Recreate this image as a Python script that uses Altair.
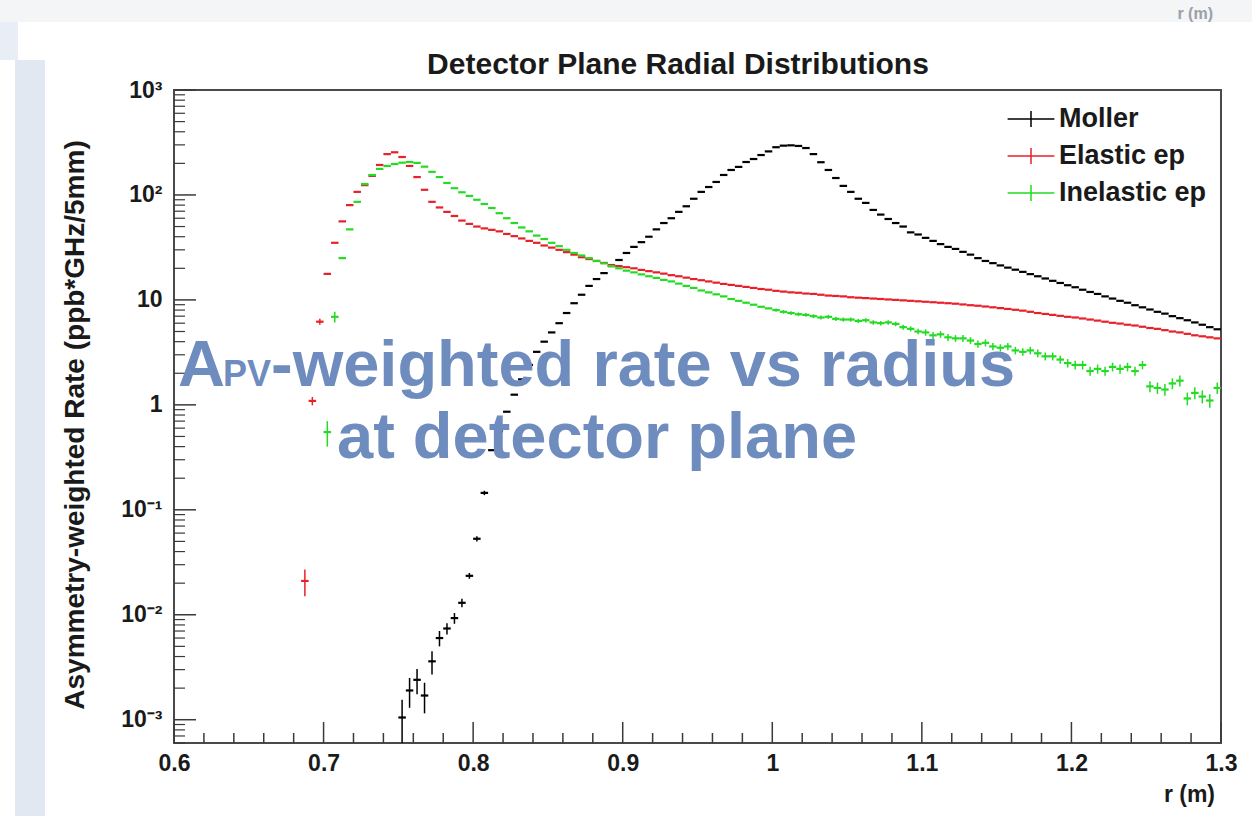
import altair as alt
import pandas as pd
import numpy as np

# ---------------- data ----------------
BIN = 0.005  # 5 mm bins
series_names = ["Moller", "Elastic ep", "Inelastic ep"]
series_colors = ["#000000", "#e8202a", "#22dc22"]

moller_first = 0.7525
moller_vals = [
    0.00105, 0.0019, 0.0024, 0.0017, 0.0036, 0.0060, 0.0074, 0.0093, 0.013, 0.0235,
    0.053, 0.145, 0.37, 0.56, 0.86, 1.25, 1.75, 2.4, 3.2, 4.0,
    4.9, 6.0, 7.5, 9.3, 11.2, 13.6, 15.8, 18, 21, 24,
    28, 32, 35.5, 40, 47, 54, 60, 69, 78, 92,
    107, 119, 133, 155, 173, 185, 206, 220, 240, 260,
    285, 295, 297, 293, 280, 245, 205, 173, 145, 122,
    107, 92, 84, 72, 65, 59, 54, 50, 44, 42,
    39, 36.5, 34, 32, 30.6, 28.7, 27, 25, 23.5, 22.4,
    21.3, 20.3, 19.4, 18.5, 17.6, 16.8, 16.0, 15.2, 14.5, 13.8,
    13.2, 12.5, 11.9, 11.4, 10.8, 10.3, 9.8, 9.4, 8.9, 8.5,
    8.1, 7.7, 7.4, 7.0, 6.7, 6.4, 6.1, 5.8, 5.5, 5.25,
]
moller_err = [0.0005, 0.0006, 0.00065, 0.00055, 0.0009, 0.001, 0.0009, 0.0011,
              0.0012, 0.0015, 0.003, 0.007]

elastic_first = 0.6875
elastic_vals = [
    0.021, 1.09, 6.2, 17.7, 35, 56, 80, 107, 124, 152,
    193, 245, 255, 230, 189, 148, 112, 86, 76, 69,
    63, 57, 53, 50, 48, 46.5, 45, 42.5, 40.5, 38.5,
    36.5, 35, 33, 31.5, 30, 28.5, 27, 25.5, 24.5, 23.5,
    22.5, 21.5, 21, 20.5, 20, 19.3, 18.8, 18.3, 17.8, 17.2,
    16.8, 16.3, 15.8, 15.4, 15, 14.6, 14.2, 13.9, 13.6, 13.3,
    13, 12.7, 12.5, 12.2, 12, 11.8, 11.7, 11.5, 11.4, 11.2,
    11.0, 10.9, 10.8, 10.6, 10.5, 10.4, 10.3, 10.2, 10.1, 10.0,
    9.9, 9.8, 9.7, 9.6, 9.5, 9.4, 9.3, 9.2, 9.05, 8.9,
    8.8, 8.65, 8.5, 8.35, 8.2, 8.05, 7.9, 7.7, 7.5, 7.35,
    7.2, 7.05, 6.9, 6.8, 6.65, 6.5, 6.35, 6.2, 6.05, 5.95,
    5.8, 5.7, 5.55, 5.4, 5.3, 5.15, 5.0, 4.9, 4.75, 4.6,
    4.5, 4.4, 4.3,
]
elastic_err = [0.006, 0.1, 0.4]

inel_first = 0.7025
inel_vals = [
    0.55, 6.9, 25, 47, 86, 127, 155, 177, 189, 197,
    203, 206, 202, 186, 166, 148, 130, 116, 106, 98,
    90, 82, 75, 67, 60, 54, 49, 45, 41, 38,
    35, 32.5, 30, 28, 26.5, 25, 23.5, 22.3, 21, 20,
    19, 18.3, 17.5, 16.8, 16.2, 15.5, 15, 14.3, 13.6, 13,
    12.3, 11.8, 11.3, 10.8, 10.2, 9.8, 9.4, 9.0, 8.6, 8.3,
    8.0, 7.7, 7.5, 7.3, 7.2, 7.0, 6.8, 6.9, 6.6, 6.5,
    6.5, 6.3, 6.4, 6.1, 6.0, 6.1, 5.9, 5.5, 5.3, 5.0,
    4.9, 4.6, 4.7, 4.4, 4.3, 4.3, 4.1, 3.8, 3.9, 3.6,
    3.5, 3.6, 3.3, 3.2, 3.3, 3.1, 2.9, 2.9, 2.7, 2.5,
    2.4, 2.4, 2.1, 2.2, 2.1, 2.3, 2.2, 2.3, 2.1, 2.4,
    1.5, 1.45, 1.4, 1.6, 1.7, 1.15, 1.3, 1.2, 1.1, 1.45,
]
inel_err = [0.15, 0.8]
inel_tail_first = 1.0025
inel_tail_err = [
    0.3, 0.3, 0.3, 0.3, 0.3, 0.3, 0.3, 0.3, 0.3, 0.3,
    0.3, 0.3, 0.3, 0.3, 0.3, 0.3, 0.3, 0.3, 0.3, 0.3,
    0.35, 0.35, 0.35, 0.33, 0.32, 0.32, 0.31, 0.3, 0.3, 0.28,
    0.28, 0.28, 0.27, 0.26, 0.27, 0.26, 0.25, 0.25, 0.24, 0.23,
    0.23, 0.23, 0.21, 0.22, 0.21, 0.22, 0.22, 0.22, 0.21, 0.22,
    0.18, 0.18, 0.18, 0.19, 0.2, 0.16, 0.17, 0.17, 0.16, 0.18,
]

x_major = [0.6, 0.7, 0.8, 0.9, 1.0, 1.1, 1.2, 1.3]
y_major = [0.001, 0.01, 0.1, 1, 10, 100, 1000]
Y_MIN, Y_MAX = 6e-4, 1000

# ---------------- build tables ----------------
def key(c):
    return round(c, 4)

rows = []
err_rows = []
def add_series(name, first, vals, err_specs):
    errs = {}
    for start, lst in err_specs:
        for i, e in enumerate(lst):
            errs[key(start + i * BIN)] = e
    for i, v in enumerate(vals):
        c = key(first + i * BIN)
        rows.append(dict(series=name, r=c, lo=c - BIN / 2, hi=c + BIN / 2, v=v))
        e = errs.get(c, 0)
        if e > 0:
            err_rows.append(dict(series=name, r=c, ylo=max(v - e, 1e-6), yhi=v + e))

add_series("Moller", moller_first, moller_vals, [(moller_first, moller_err)])
add_series("Elastic ep", elastic_first, elastic_vals, [(elastic_first, elastic_err)])
add_series("Inelastic ep", inel_first, inel_vals,
           [(inel_first, inel_err), (inel_tail_first, inel_tail_err)])
df = pd.DataFrame(rows)
df_err = pd.DataFrame(err_rows)

# axis tick positions (drawn inward, ROOT style)
x_minor = [round(0.6 + 0.02 * i, 2) for i in range(36) if (i % 5) != 0]
y_minor = []
for d in [1e-4, 1e-3, 1e-2, 1e-1, 1, 10, 100]:
    for m in range(2, 10):
        val = m * d
        if Y_MIN <= val <= Y_MAX and val not in y_major:
            y_minor.append(val)

W, H = 1047, 653
xs = alt.Scale(domain=[0.6, 1.3], nice=False, zero=False)
ys = alt.Scale(type="log", domain=[Y_MIN, Y_MAX], nice=False)
color_scale = alt.Scale(domain=series_names, range=series_colors)

FONT = "Liberation Sans"
TICK_COLOR = "#3a3a3a"

xtick_major = alt.Chart(pd.DataFrame({"t": x_major})).mark_rule(
    color=TICK_COLOR, strokeWidth=1.5).encode(
    x=alt.X("t:Q", scale=xs, axis=alt.Axis(
        values=x_major, title=None, ticks=False, domain=False, grid=False,
        labelExpr="datum.value == 1 ? '1' : format(datum.value, '.1f')",
        labelFont=FONT, labelFontWeight="bold", labelFontSize=23,
        labelColor="#1a1a1a", labelPadding=9, labelFlush=False)),
    y=alt.value(H), y2=alt.value(H - 21))
xtick_minor = alt.Chart(pd.DataFrame({"t": x_minor})).mark_rule(
    color=TICK_COLOR, strokeWidth=1.5).encode(
    x=alt.X("t:Q", scale=xs), y=alt.value(H), y2=alt.value(H - 10))

ylab = ("datum.value >= 500 ? '10\u00b3' : datum.value >= 50 ? '10\u00b2' : "
        "datum.value >= 5 ? '10' : datum.value >= 0.5 ? '1' : "
        "datum.value >= 0.05 ? '10\u207b\u00b9' : datum.value >= 0.005 ? '10\u207b\u00b2' : '10\u207b\u00b3'")
ytick_major = alt.Chart(pd.DataFrame({"t": y_major})).mark_rule(
    color=TICK_COLOR, strokeWidth=1.5).encode(
    y=alt.Y("t:Q", scale=ys, axis=alt.Axis(
        values=y_major, title=None, ticks=False, domain=False, grid=False,
        labelExpr=ylab, labelFont=FONT, labelFontWeight="bold", labelFontSize=23,
        labelColor="#1a1a1a", labelPadding=12)),
    x=alt.value(0), x2=alt.value(22))
ytick_minor = alt.Chart(pd.DataFrame({"t": y_minor})).mark_rule(
    color=TICK_COLOR, strokeWidth=1.2).encode(
    y=alt.Y("t:Q", scale=ys), x=alt.value(0), x2=alt.value(11))

bins = alt.Chart(df).mark_rule(strokeWidth=2.2, clip=True).encode(
    x=alt.X("lo:Q", scale=xs), x2="hi:Q",
    y=alt.Y("v:Q", scale=ys),
    color=alt.Color("series:N", scale=color_scale, sort=series_names,
                    legend=alt.Legend(
                        orient="none", legendX=838, legendY=10, title=None,
                        symbolType="M-1.3,0H1.3M0,-0.45V0.45", symbolSize=1296,
                        symbolStrokeWidth=1.5, labelFont=FONT, labelFontWeight="bold",
                        labelFontSize=27, labelColor="#1a1a1a", labelOffset=9,
                        rowPadding=5)),
    order=alt.Order("r:Q"))
errbars = alt.Chart(df_err).mark_rule(strokeWidth=1.5, clip=True).encode(
    x=alt.X("r:Q", scale=xs),
    y=alt.Y("ylo:Q", scale=ys), y2="yhi:Q",
    color=alt.Color("series:N", scale=color_scale, legend=None))

one = pd.DataFrame({"k": [0]})

def rect(x1, x2, y1, y2, color):
    return alt.Chart(one).mark_rect(color=color).encode(
        x=alt.value(x1), x2=alt.value(x2), y=alt.value(y1), y2=alt.value(y2))

def label(text, x, y, size, color="#1a1a1a", font=FONT, align="left",
          baseline="alphabetic", angle=0, weight="bold", opacity=1.0):
    return alt.Chart(one).mark_text(
        text=text, font=font, fontSize=size, fontWeight=weight, color=color,
        align=align, baseline=baseline, angle=angle, opacity=opacity).encode(
        x=alt.value(x), y=alt.value(y))

OX, OY = 174, 90  # plot origin in page pixels
decor = [
    rect(0 - OX, 1252 - OX, 0 - OY, 22 - OY, "#f4f5f7"),
    rect(0 - OX, 18 - OX, 22 - OY, 60 - OY, "#e9eef6"),
    rect(15 - OX, 45 - OX, 60 - OY, 816 - OY, "#e2e8f1"),
    label("r (m)", 1213 - OX, 14 - OY, 16, color="#9aa0a8", align="right",
          baseline="middle"),
]

texts = [
    label("Detector Plane Radial Distributions", 678 - OX, 65 - OY, 30,
          align="center", baseline="middle"),
    label("Asymmetry-weighted Rate (ppb*GHz/5mm)", 76 - OX, 425 - OY, 28,
          align="center", baseline="middle", angle=270),
    label("r (m)", 1215 - OX, 795 - OY, 23, align="right", baseline="middle"),
]

OVER = "#6f8cbf"
overlay = [
    label("A", 178 - OX, 386 - OY, 65, color=OVER),
    label("PV", 223 - OX, 386 - OY, 36, color=OVER),
    label("-weighted rate vs radius", 271 - OX, 386 - OY, 65, color=OVER),
    label("at detector plane", 337 - OX, 458 - OY, 65, color=OVER),
]

chart = alt.layer(
    *decor, xtick_minor, xtick_major, ytick_minor, ytick_major,
    bins, errbars, *texts, *overlay
).properties(
    width=W, height=H,
    padding={"left": OX, "top": OY, "right": 1252 - OX - W, "bottom": 816 - OY - H},
    autosize=alt.AutoSizeParams(type="none"),
    background="white",
).configure_view(stroke="#4a4a4a", strokeWidth=2)

chart.save("out.html", embed_options={"renderer": "svg", "actions": False})
